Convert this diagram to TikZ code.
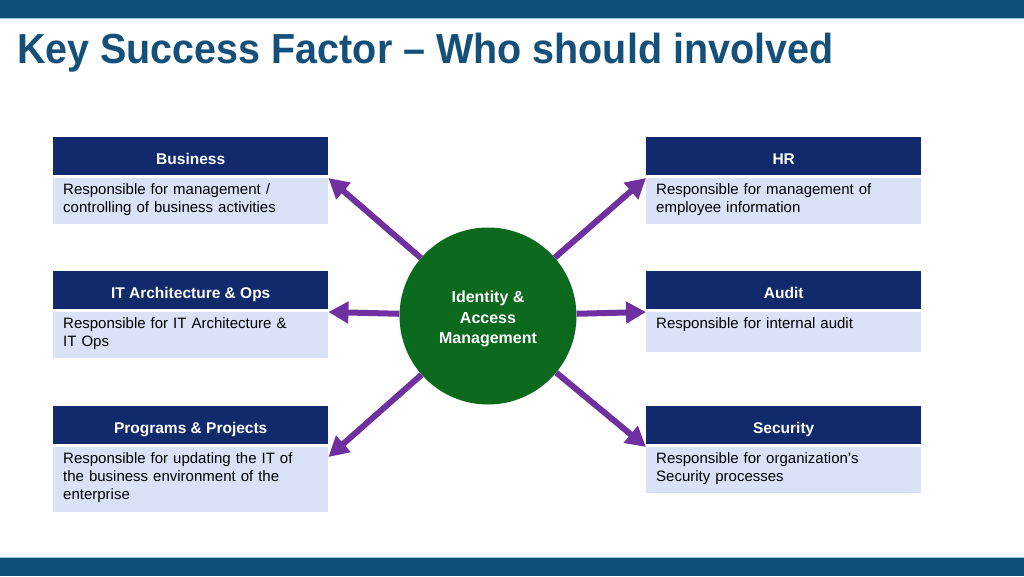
\documentclass[tikz,border=0pt]{standalone}
\usepackage{fontspec}
\setmainfont{Liberation Sans}
\usepackage{graphicx}
\usepackage{tikz}
\usetikzlibrary{arrows.meta, positioning}
\definecolor{barblue}{HTML}{0F5078}
\definecolor{barline}{HTML}{9CC3DA}
\definecolor{titleblue}{HTML}{14507A}
\definecolor{hdrblue}{HTML}{102A6C}
\definecolor{bodyfill}{HTML}{D9E2F6}
\definecolor{hubgreen}{HTML}{0B6A1E}
\definecolor{arrowpurple}{HTML}{7030A0}

\begin{document}
\begin{tikzpicture}[x=1pt, y=-1pt,
    hdr/.style={fill=hdrblue, text=white, font=\bfseries\fontsize{15.5}{18}\selectfont,
      anchor=north west, minimum width=275pt, minimum height=38pt, inner sep=0pt,
      text height=16pt, text depth=0pt},
    body/.style={fill=bodyfill, anchor=north west, text width=255pt, inner xsep=10pt,
      inner ysep=5pt, align=left, font=\fontsize{15}{18}\selectfont,
      text height=11pt, text depth=#1},
    hub/.style={circle, fill=hubgreen, minimum size=177pt, inner sep=0pt},
    hubtext/.style={text=white, font=\bfseries\fontsize{16}{20.5}\selectfont, align=center,
      inner sep=0pt, yshift=-3pt},
    arr/.style={draw=arrowpurple, line width=6pt, -{Triangle[length=20pt, width=21pt]}}]
    \useasboundingbox (0,0) rectangle (1024,576);

    % bars top and bottom
    \fill[barblue] (0,0) rectangle (1024,18);
    \draw[barline, line width=1pt] (0,18.5) -- (1024,18.5);
    \fill[barblue] (0,558) rectangle (1024,576);
    \draw[barline, line width=1pt] (0,557.5) -- (1024,557.5);

    \node[anchor=base west, inner sep=0pt, text=titleblue, font=\bfseries\fontsize{42}{48}\selectfont]
      (title) at (17,63) {\scalebox{0.94}[1]{Key Success Factor -- Who should involved}};

    % left column
    \node[hdr] (busH) at (53,137) {Business};
    \node[body=25pt] (busB) at (53,178) {Responsible for management /\\controlling of business activities};

    \node[hdr] (itH) at (53,271) {IT Architecture \& Ops};
    \node[body=25pt] (itB) at (53,312) {Responsible for IT Architecture \&\\IT Ops};

    \node[hdr] (prH) at (53,406) {Programs \& Projects};
    \node[body=44pt] (prB) at (53,447) {Responsible for updating the IT of\\the business environment of the\\enterprise};
    \coordinate (prTip) at ([yshift=-10pt]prB.north east);

    % right column
    \node[hdr] (hrH) at (646,137) {HR};
    \node[body=25pt] (hrB) at (646,178) {Responsible for management of\\employee information};

    \node[hdr] (auH) at (646,271) {Audit};
    \node[body=19pt] (auB) at (646,312) {Responsible for internal audit};

    \node[hdr] (seH) at (646,406) {Security};
    \node[body=25pt] (seB) at (646,447) {Responsible for organization’s\\Security processes};

    \node[hub, label={[hubtext]center:Identity \&\\Access\\Management}] (iam) at (488,316) {};

    \foreach \Target in {busB.north east, itB.north east, prTip,
                         hrB.north west, auB.north west, seB.north west}
        \draw[arr] (iam) -- (\Target);

\end{tikzpicture}
\end{document}
